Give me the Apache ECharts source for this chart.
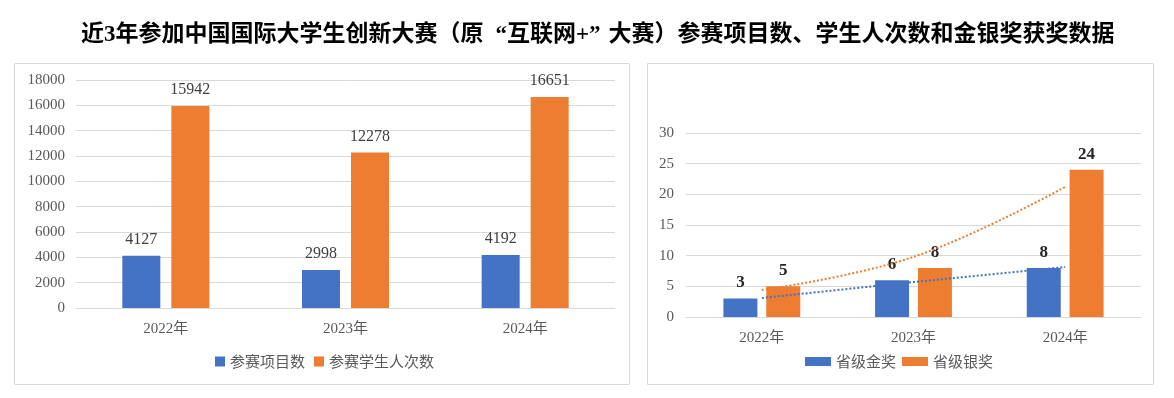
<!DOCTYPE html>
<html>
<head>
<meta charset="utf-8">
<script src="https://cdn.jsdelivr.net/npm/echarts@6/dist/echarts.min.js"></script>
<style>
  html, body { margin: 0; padding: 0; background: #fff; }
  #chart { width: 1174px; height: 398px; }
</style>
</head>
<body>
<div id="chart"></div>
<script>
// 数据
const years = ['2022年', '2023年', '2024年']
const projectCounts = [4127, 2998, 4192]
const studentCounts = [15942, 12278, 16651]
const goldAwards = [3, 6, 8]
const silverAwards = [5, 8, 24]
// 趋势线
const goldTrend = [3.1, 5.7, 8.15]
const silverTrend = [4.4, 9.8, 21.2]

const BLUE = '#4472C4'
const ORANGE = '#ED7D31'
const GRID_LINE = '#d9d9d9'
const TEXT = '#595959'
const SERIF = '"Liberation Serif", "Times New Roman", "Noto Sans CJK SC", serif'
const SANS = '"Noto Sans CJK SC", sans-serif'

const chart = echarts.init(document.getElementById('chart'), null, { renderer: 'canvas' })

const axisLabel = { color: TEXT, fontSize: 15, fontFamily: SERIF }
const titleFont = { fontSize: 23, fontWeight: 'bold', color: '#000', fontFamily: SERIF }

chart.setOption({
  animation: false,
  title: {
    text: '近3年参加中国国际大学生创新大赛（原{q1|“}互联网+{q2|”}大赛）参赛项目数、学生人次数和金银奖获奖数据',
    left: 81,
    top: 24,
    padding: 0,
    textStyle: {
      ...titleFont,
      rich: {
        q1: { ...titleFont, padding: [0, 0, 0, 12] },
        q2: { ...titleFont, padding: [0, 8, 0, 0] },
      },
    },
  },
  graphic: [
    {
      type: 'rect', z: -10,
      shape: { x: 14.5, y: 63.5, width: 615, height: 321 },
      style: { fill: '#fff', stroke: GRID_LINE, lineWidth: 1 },
    },
    {
      type: 'rect', z: -10,
      shape: { x: 647.5, y: 63.5, width: 506, height: 321 },
      style: { fill: '#fff', stroke: GRID_LINE, lineWidth: 1 },
    },
  ],
  legend: [
    {
      data: ['参赛项目数', '参赛学生人次数'],
      left: 210, top: 349,
      itemWidth: 10, itemHeight: 10, itemGap: 9,
      icon: 'rect',
      textStyle: { color: TEXT, fontSize: 15, fontFamily: SANS },
    },
    {
      data: ['省级金奖', '省级银奖'],
      left: 800, top: 349,
      itemWidth: 26, itemHeight: 9, itemGap: 6,
      icon: 'rect',
      textStyle: { color: TEXT, fontSize: 15, fontFamily: SANS },
    },
  ],
  grid: [
    { left: 76, right: 559, top: 80, bottom: 90 },
    { left: 686, right: 33, top: 133, bottom: 81 },
  ],
  xAxis: [0, 1].map(i => ({
    type: 'category',
    gridIndex: i,
    data: years,
    axisLine: { lineStyle: { color: GRID_LINE } },
    axisTick: { show: false },
    axisLabel: { ...axisLabel, margin: 14 },
  })),
  yAxis: [
    {
      type: 'value', gridIndex: 0, min: 0, max: 18000, interval: 2000,
      axisLine: { show: false }, axisTick: { show: false },
      axisLabel: { ...axisLabel, margin: 11, formatter: v => String(v) },
      splitLine: { lineStyle: { color: GRID_LINE } },
    },
    {
      type: 'value', gridIndex: 1, min: 0, max: 30, interval: 5,
      axisLine: { show: false }, axisTick: { show: false },
      axisLabel: { ...axisLabel, margin: 12 },
      splitLine: { lineStyle: { color: GRID_LINE } },
    },
  ],
  series: [
    {
      name: '参赛项目数', type: 'bar', xAxisIndex: 0, yAxisIndex: 0,
      data: projectCounts, barWidth: 38, barGap: '29%',
      itemStyle: { color: BLUE },
      label: { show: true, position: 'top', distance: 8, color: '#404040', fontSize: 16, fontFamily: SERIF },
    },
    {
      name: '参赛学生人次数', type: 'bar', xAxisIndex: 0, yAxisIndex: 0,
      data: studentCounts, barWidth: 38, barGap: '29%',
      itemStyle: { color: ORANGE },
      label: { show: true, position: 'top', distance: 8, color: '#404040', fontSize: 16, fontFamily: SERIF },
    },
    {
      name: '省级金奖', type: 'bar', xAxisIndex: 1, yAxisIndex: 1,
      data: goldAwards, barWidth: 34, barGap: '26%',
      itemStyle: { color: BLUE },
      label: { show: true, position: 'top', distance: 7, color: '#262626', fontSize: 17, fontWeight: 'bold', fontFamily: SERIF },
    },
    {
      name: '省级银奖', type: 'bar', xAxisIndex: 1, yAxisIndex: 1,
      data: silverAwards, barWidth: 34, barGap: '26%',
      itemStyle: { color: ORANGE },
      label: { show: true, position: 'top', distance: 7, color: '#262626', fontSize: 17, fontWeight: 'bold', fontFamily: SERIF },
    },
    {
      name: '金奖趋势', type: 'line', xAxisIndex: 1, yAxisIndex: 1,
      data: goldTrend, symbol: 'none', silent: true, z: 5,
      lineStyle: { color: BLUE, width: 2, type: [2, 2] },
    },
    {
      name: '银奖趋势', type: 'line', xAxisIndex: 1, yAxisIndex: 1,
      data: silverTrend, symbol: 'none', silent: true, z: 5, smooth: 0.4,
      lineStyle: { color: ORANGE, width: 2, type: [2, 2] },
    },
  ],
})
</script>
</body>
</html>
